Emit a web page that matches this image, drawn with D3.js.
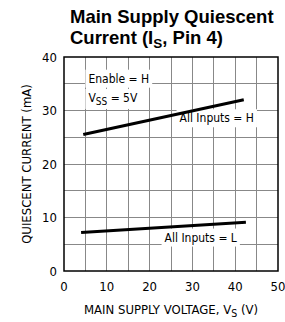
<!DOCTYPE html>
<html><head><meta charset="utf-8">
<script src="https://cdn.jsdelivr.net/npm/d3@7"></script>
<style>
html,body{margin:0;padding:0;background:#fff;}
svg{display:block;}
</style></head>
<body>
<script>
const xTicks = [0, 10, 20, 30, 40, 50];
const yTicks = [0, 10, 20, 30, 40];
const seriesNames = ["All Inputs = H", "All Inputs = L"];
const inputsHighV = [4.5, 42];
const inputsHighI = [25.5, 32];
const inputsLowV = [4, 42.5];
const inputsLowI = [7.2, 9.1];

const W = 285, H = 322;
const m = {left: 64, right: 278, top: 57, bottom: 271};
const svg = d3.select("body").append("svg").attr("width", W).attr("height", H);
const x = d3.scaleLinear().domain([0, 50]).range([m.left, m.right]);
const y = d3.scaleLinear().domain([0, 40]).range([m.bottom, m.top]);
const narrow = "'Liberation Sans Narrow','DejaVu Sans Condensed',sans-serif";

// grid
const gx = d3.range(5, 50, 5), gy = d3.range(5, 40, 5);
svg.append("g").selectAll("line").data(gx).join("line")
  .attr("x1", d => x(d)).attr("x2", d => x(d)).attr("y1", y(40)).attr("y2", y(0))
  .attr("stroke", "#888").attr("stroke-width", 1).attr("shape-rendering", "crispEdges");
svg.append("g").selectAll("line").data(gy).join("line")
  .attr("y1", d => y(d)).attr("y2", d => y(d)).attr("x1", x(0)).attr("x2", x(50))
  .attr("stroke", "#888").attr("stroke-width", 1).attr("shape-rendering", "crispEdges");

// labels with white backgrounds
function label(tx, ty, txt, sub, rest) {
  const t = svg.append("text").attr("x", tx).attr("y", ty)
    .attr("font-family", narrow).attr("font-size", 12).attr("fill", "#000");
  t.append("tspan").text(txt);
  if (sub) t.append("tspan").attr("font-size", 10).attr("dy", 3).text(sub);
  if (rest) t.append("tspan").attr("dy", sub ? -3 : 0).text(rest);
  return t;
}
const bg = svg.append("g");
const labels = [
  label(x(5.7), y(35.2), "Enable = H"),
  label(x(5.7), y(31.6), "V", "SS", " = 5V"),
  label(x(27), y(27.8), seriesNames[0]),
  label(x(23.5), y(5.5), seriesNames[1])
];
labels.forEach(l => {
  const b = l.node().getBBox();
  bg.append("rect").attr("x", b.x - 3).attr("y", b.y - 2).attr("width", b.width + 6).attr("height", b.height + 4).attr("fill", "#fff");
});

// frame
svg.append("rect").attr("x", x(0)).attr("y", y(40)).attr("width", x(50) - x(0)).attr("height", y(0) - y(40))
  .attr("fill", "none").attr("stroke", "#000").attr("stroke-width", 1.5);

// lines
const line = d3.line().x(d => x(d[0])).y(d => y(d[1]));
svg.append("path").datum(inputsHighV.map((v, i) => [v, inputsHighI[i]])).attr("d", line)
  .attr("stroke", "#000").attr("stroke-width", 3).attr("fill", "none");
svg.append("path").datum(inputsLowV.map((v, i) => [v, inputsLowI[i]])).attr("d", line)
  .attr("stroke", "#000").attr("stroke-width", 3).attr("fill", "none");

// ticks
svg.append("g").selectAll("text").data(xTicks).join("text")
  .attr("x", d => x(d)).attr("y", 291).attr("text-anchor", "middle")
  .attr("font-family", narrow).attr("font-size", 13).text(d => d);
svg.append("g").selectAll("text").data(yTicks).join("text")
  .attr("x", 57).attr("y", d => y(d) + 4.5).attr("text-anchor", "end")
  .attr("font-family", narrow).attr("font-size", 13).text(d => d);

// axis titles
const xl = svg.append("text").attr("x", 171).attr("y", 314).attr("text-anchor", "middle")
  .attr("font-family", narrow).attr("font-size", 13);
xl.append("tspan").text("MAIN SUPPLY VOLTAGE, V");
xl.append("tspan").attr("font-size", 10.5).attr("dy", 3).text("S");
xl.append("tspan").attr("dy", -3).text(" (V)");
svg.append("text").attr("transform", "translate(31,164) rotate(-90)").attr("text-anchor", "middle")
  .attr("font-family", narrow).attr("font-size", 13).text("QUIESCENT CURRENT (mA)");

// title
const bold = "'Liberation Sans',Arial,sans-serif";
svg.append("text").attr("x", 70).attr("y", 23).attr("font-family", bold).attr("font-weight", "bold")
  .attr("font-size", 18.5).text("Main Supply Quiescent");
const t2 = svg.append("text").attr("x", 70).attr("y", 44).attr("font-family", bold).attr("font-weight", "bold")
  .attr("font-size", 18.5);
t2.append("tspan").text("Current (I");
t2.append("tspan").attr("font-size", 13.5).attr("dy", 4).text("S");
t2.append("tspan").attr("dy", -4).text(", Pin 4)");
</script>
</body></html>
